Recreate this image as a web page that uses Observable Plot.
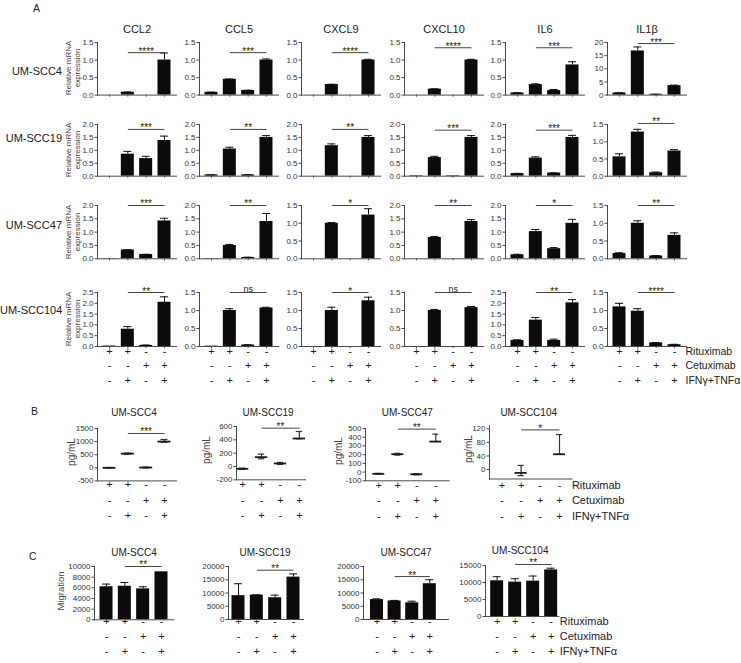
<!DOCTYPE html>
<html><head><meta charset="utf-8">
<script src="https://cdn.jsdelivr.net/npm/d3@7"></script>
<script src="https://cdn.jsdelivr.net/npm/@observablehq/plot@0.6"></script>
<style>
body{margin:0;background:#fff;}
#fig{position:relative;width:741px;height:663px;font-family:"Liberation Sans",Arial,Helvetica,sans-serif;color:#222;overflow:hidden;background:#fff;}
#fig svg{position:absolute;overflow:visible;background:transparent;}
.lbl{position:absolute;white-space:nowrap;line-height:14px;}
.rot{position:absolute;white-space:pre;text-align:center;transform:translate(-50%,-50%) rotate(-90deg);color:#444;}
</style></head><body><div id="fig"></div>
<script>
// ---------- shared categories ----------
const conditions = ["c1", "c2", "c3", "c4"];
const rituximab = ["+", "+", "-", "-"];
const cetuximab = ["-", "-", "+", "+"];
const ifnTnf = ["-", "+", "-", "+"];
const treatmentNames = ["Rituximab", "Cetuximab", "IFNγ+TNFα"];
const genes = ["CCL2", "CCL5", "CXCL9", "CXCL10", "IL6", "IL1β"];
const cellLines = ["UM-SCC4", "UM-SCC19", "UM-SCC47", "UM-SCC104"];

// ---------- tick labels ----------
const ticks15 = [0, 0.5, 1.0, 1.5];
const ticks20 = [0, 0.5, 1.0, 1.5, 2.0];
const ticks25 = [0, 0.5, 1.0, 1.5, 2.0, 2.5];
const ticks0to20 = [0, 5, 10, 15, 20];

// ---------- Panel A: relative mRNA expression (mean, SEM), per gene ----------
const mrnaSCC4 = [[0, 0.08, 0, 1.0], [0.08, 0.45, 0.13, 1.0], [0, 0.3, 0, 1.0], [0, 0.17, 0, 1.0], [0.06, 0.3, 0.13, 0.86], [0.8, 16.8, 0.3, 3.6]];
const semSCC4 = [[0, 0.01, 0, 0.2], [0.005, 0.01, 0.01, 0.03], [0, 0.01, 0, 0.02], [0, 0.01, 0, 0.02], [0.01, 0.02, 0.03, 0.09], [0.1, 1.5, 0.05, 0.2]];
const sigSCC4 = ["****", "***", "****", "****", "***", "***"];
const sigYSCC4 = [1.21, 1.21, 1.21, 1.35, 1.35, 19.6];
const ticksSCC4 = [ticks15, ticks15, ticks15, ticks15, ticks15, ticks0to20];

const mrnaSCC19 = [[0, 0.85, 0.68, 1.38], [0.05, 1.05, 0.05, 1.5], [0, 1.18, 0, 1.5], [0.02, 0.72, 0.02, 1.5], [0.1, 0.7, 0.12, 1.5], [0.56, 1.28, 0.1, 0.73]];
const semSCC19 = [[0, 0.11, 0.09, 0.17], [0.005, 0.07, 0.01, 0.07], [0, 0.07, 0, 0.07], [0, 0.05, 0, 0.07], [0.01, 0.05, 0.01, 0.08], [0.09, 0.08, 0.02, 0.04]];
const sigSCC19 = ["***", "**", "**", "***", "***", "**"];
const sigYSCC19 = [1.81, 1.81, 1.81, 1.78, 1.78, 1.53];
const ticksSCC19 = [ticks20, ticks20, ticks20, ticks20, ticks20, ticks15];

const mrnaSCC47 = [[0.01, 0.33, 0.16, 1.42], [0.01, 0.5, 0.05, 1.4], [0, 1.0, 0, 1.23], [0, 0.8, 0, 1.4], [0.15, 1.02, 0.38, 1.33], [0.15, 1.0, 0.08, 0.66]];
const semSCC47 = [[0, 0.01, 0.01, 0.1], [0, 0.04, 0.01, 0.3], [0, 0.02, 0, 0.18], [0, 0.04, 0, 0.07], [0.02, 0.08, 0.04, 0.15], [0.02, 0.07, 0.01, 0.07]];
const sigSCC47 = ["***", "**", "*", "**", "*", "**"];
const sigYSCC47 = [2.0, 2.0, 1.5, 2.0, 2.0, 1.5];
const ticksSCC47 = [ticks20, ticks20, ticks15, ticks20, ticks20, ticks15];

const mrnaSCC104 = [[0.02, 0.8, 0.05, 2.05], [0.01, 1.0, 0.04, 1.07], [0, 1.0, 0, 1.27], [0, 1.0, 0, 1.08], [0.28, 1.22, 0.28, 2.02], [1.1, 0.98, 0.1, 0.05]];
const semSCC104 = [[0, 0.12, 0.02, 0.25], [0, 0.05, 0.01, 0.02], [0, 0.09, 0, 0.1], [0, 0.03, 0, 0.03], [0.03, 0.12, 0.06, 0.15], [0.1, 0.07, 0.01, 0.01]];
const sigSCC104 = ["**", "ns", "*", "ns", "**", "****"];
const sigYSCC104 = [2.5, 1.5, 1.5, 1.5, 2.5, 1.5];
const ticksSCC104 = [ticks25, ticks15, ticks15, ticks15, ticks25, ticks15];

// ---------- Panel B: secreted protein pg/mL (mean, whisker low, whisker high) ----------
const pgMean = [[0, 540, 10, 1000], [-35, 140, 45, 420], [-20, 205, -25, 350], [null, -10, null, 45]];
const pgLow = [[-10, 520, -5, 980], [-45, 115, 30, 415], [-25, 195, -32, 350], [null, -18, null, 45]];
const pgHigh = [[10, 560, 25, 1080], [-25, 185, 60, 525], [-15, 215, -18, 435], [null, 12, null, 103]];
const pgSig = ["***", "**", "**", "*"];
const pgSigY = [1310, 575, 493, 117];
const pgDomain = [[-500, 1500], [-200, 600], [-100, 500], [-28, 130]];
const pgTicks = [[-500, 0, 500, 1000, 1500], [-200, 0, 200, 400, 600], [-100, 0, 100, 200, 300, 400, 500], [0, 40, 80, 120]];

// ---------- Panel C: migration (mean, SEM) ----------
const migMean = [[6200, 6300, 5800, 9000], [9000, 9200, 8200, 16000], [7500, 7000, 6300, 13500], [10500, 10100, 10400, 13700]];
const migErr = [[500, 700, 400, 0], [4500, 100, 1000, 1200], [300, 200, 600, 1500], [1200, 1000, 1500, 500]];
const migSig = ["**", "**", "**", "**"];
const migSigY = [10000, 18600, 16200, 15300];
const migTicks = [[0, 2000, 4000, 6000, 8000, 10000], [0, 5000, 10000, 15000, 20000], [0, 5000, 10000, 15000, 20000], [0, 5000, 10000, 15000]];

// ---------- layout ----------
const FONT = '"Liberation Sans", Arial, Helvetica, sans-serif';
const AXC = "#4a4a4a";
const BAR = "#0c0a0a";
const fig = document.getElementById("fig");

const A = {colX: [97, 199, 301, 404, 505, 607], rowY: [41.7, 124.3, 205, 291.7], rowH: [52.6, 51.7, 53.3, 54],
  w: 79, pi: 0.29, po: 0.30, labelY: [71, 138.3, 225, 310], signY: [354, 368, 383], ylabX: 72.5};
const B = [
  {x: 96.7, y: 428.3, w: 79, h: 52.4, pi: 0.29, po: 0.30, align: 0.5, ylabX: 72, titleDx: -3},
  {x: 235.7, y: 426, w: 69, h: 53.3, pi: 0.35, po: 0.0, align: 0.5, ylabX: 207, titleDx: -3},
  {x: 365, y: 427.7, w: 83.6, h: 52.3, pi: 0.37, po: 0.385, align: 0.5, ylabX: 338.5, titleDx: 0},
  {x: 489.3, y: 424.8, w: 82.4, h: 53.5, pi: 0.37, po: 0.33, align: 0.5, ylabX: 468.5, titleDx: -2}
];
const Bsign = [488, 503.5, 519];
const C = [
  {x: 94.3, y: 565.7, w: 79, h: 53.3, pi: 0.29, po: 0.30, align: 0.5, titleDx: 0},
  {x: 228.3, y: 566, w: 75, h: 53, pi: 0.29, po: 0.19, align: 0.5, titleDx: -1},
  {x: 363.3, y: 566, w: 85, h: 53, pi: 0.26, po: 0.545, align: 0.365, titleDx: 0},
  {x: 485, y: 565, w: 73.3, h: 51, pi: 0.28, po: 0.175, align: 0.82, titleDx: -2}
];
const Csign = [624.5, 639.5, 654.5];

function addLabel(text, left, top, size, extra = "") {
  const d = document.createElement("div");
  d.className = "lbl";
  d.textContent = text;
  d.style.cssText += `left:${left}px;top:${top}px;font-size:${size}px;${extra}`;
  fig.appendChild(d);
}

function addRotated(text, cx, cy, size, lh) {
  const d = document.createElement("div");
  d.className = "rot";
  d.textContent = text;
  d.style.cssText += `left:${cx}px;top:${cy}px;font-size:${size}px;line-height:${lh}px;`;
  fig.appendChild(d);
}

function makePlot(L, marks) {
  const mL = 45, mR = 8, mT = 35, mB = 8;
  const svg = Plot.plot({
    width: mL + L.w + mR, height: mT + L.h + mB,
    marginLeft: mL, marginRight: mR, marginTop: mT, marginBottom: mB,
    x: {type: "band", domain: conditions, paddingInner: L.pi, paddingOuter: L.po, align: L.align ?? 0.5, round: false, axis: null},
    y: {domain: L.domain, axis: null},
    style: {fontFamily: FONT, fontSize: "8px", color: "#222", background: "transparent", overflow: "visible"},
    marks
  });
  svg.style.position = "absolute";
  svg.style.left = (L.x - mL) + "px";
  svg.style.top = (L.y - mT) + "px";
  fig.appendChild(svg);
}

function barMarks(mean, err) {
  const rows = conditions.map((c, i) => ({c, v: mean[i], e: err[i]}));
  const eb = rows.filter(d => d.v > 0 && d.e > 0);
  return [
    Plot.barY(rows.filter(d => d.v > 0), {x: "c", y: "v", fill: BAR}),
    Plot.ruleX(eb, {x: "c", y1: "v", y2: d => d.v + d.e, stroke: "#111"}),
    Plot.tickY(eb, {x: "c", y: d => d.v + d.e, stroke: "#111", insetLeft: 2.5, insetRight: 2.5})
  ];
}

function whiskerMarks(mean, lo, hi) {
  const rows = conditions.map((c, i) => ({c, m: mean[i], lo: lo[i], hi: hi[i]})).filter(d => d.m != null);
  return [
    Plot.ruleX(rows, {x: "c", y1: "lo", y2: "hi", stroke: "#333", strokeWidth: 1.2}),
    Plot.tickY(rows, {x: "c", y: "hi", stroke: "#333", strokeWidth: 1.2, insetLeft: 3, insetRight: 3}),
    Plot.tickY(rows, {x: "c", y: "lo", stroke: "#333", strokeWidth: 1.2, insetLeft: 3, insetRight: 3}),
    Plot.tickY(rows, {x: "c", y: "m", stroke: "#1a1a1a", strokeWidth: 1.8})
  ];
}

function axisMarks(ticks, fmt, xTicks) {
  const m = [
    Plot.frame({anchor: "left", stroke: AXC}),
    Plot.frame({anchor: "bottom", stroke: AXC}),
    Plot.axisY(ticks, {tickSize: 2.5, tickPadding: 1.5, fontSize: 8, stroke: AXC, fill: "#333", tickFormat: fmt, label: null})
  ];
  if (xTicks) m.push(Plot.axisX({tickSize: 2, fill: "none", stroke: AXC, label: null}));
  return m;
}

function sigMarks(label, y) {
  const s = [{a: "c2", b: "c4", m: "c3", y, t: label}];
  return [
    Plot.link(s, {x1: "a", x2: "b", y1: "y", y2: "y", stroke: "#444"}),
    Plot.text(s, {x: "m", y: "y", text: "t", lineAnchor: "bottom", dy: label === "ns" ? -0.5 : 2, fontSize: label === "ns" ? 9 : 10, fill: "#222"})
  ];
}

function titleMark(t, dy, size, dx = 0) {
  return Plot.text([t], {frameAnchor: "top", text: d => d, lineAnchor: "bottom", dy, dx, fontSize: size, fill: "#222"});
}

function signMarks(dys, withLabels, dxLabel, labelSize) {
  const m = [];
  [rituximab, cetuximab, ifnTnf].forEach((arr, j) => {
    m.push(Plot.text(conditions.map((c, i) => ({c, s: arr[i]})), {x: "c", text: "s", frameAnchor: "bottom", dy: dys[j], fontSize: 11, fill: "#222"}));
    if (withLabels) m.push(Plot.text([treatmentNames[j]], {frameAnchor: "bottom-right", text: d => d, textAnchor: "start", dx: dxLabel, dy: dys[j], fontSize: labelSize, fill: "#222"}));
  });
  return m;
}

const fmt1 = d3.format(".1f");
const fmtInt = d => String(d);

// ---------- Panel A ----------
addLabel("A", 33, 1, 10.5);
const aRows = [
  {mean: mrnaSCC4, err: semSCC4, sig: sigSCC4, sigY: sigYSCC4, ticks: ticksSCC4},
  {mean: mrnaSCC19, err: semSCC19, sig: sigSCC19, sigY: sigYSCC19, ticks: ticksSCC19},
  {mean: mrnaSCC47, err: semSCC47, sig: sigSCC47, sigY: sigYSCC47, ticks: ticksSCC47},
  {mean: mrnaSCC104, err: semSCC104, sig: sigSCC104, sigY: sigYSCC104, ticks: ticksSCC104}
];
aRows.forEach((row, r) => {
  addLabel(cellLines[r], 0, A.labelY[r] - 7, 11, "width:62px;text-align:right;");
  addRotated("Relative mRNA\nexpression", A.ylabX, A.rowY[r] + A.rowH[r] / 2, 8, 9);
  genes.forEach((g, j) => {
    const ticks = row.ticks[j];
    const top = ticks[ticks.length - 1];
    const marks = [
      ...barMarks(row.mean[j], row.err[j]),
      ...axisMarks(ticks, top > 5 ? fmtInt : fmt1, true),
      ...sigMarks(row.sig[j], row.sigY[j])
    ];
    if (r === 0) marks.push(titleMark(g, -9, 11));
    if (r === 3) {
      const bottom = A.rowY[r] + A.rowH[r];
      marks.push(...signMarks(A.signY.map(s => s - bottom), j === 5, -1, 10.5));
    }
    makePlot({x: A.colX[j], y: A.rowY[r], w: A.w, h: A.rowH[r], pi: A.pi, po: A.po, domain: [0, top]}, marks);
  });
});

// ---------- Panel B ----------
addLabel("B", 31, 404, 10.5);
B.forEach((L, k) => {
  addRotated("pg/mL", L.ylabX, L.y + L.h / 2 - 3, 10, 12);
  const marks = [
    ...axisMarks(pgTicks[k], fmtInt, false),
    ...whiskerMarks(pgMean[k], pgLow[k], pgHigh[k]),
    ...sigMarks(pgSig[k], pgSigY[k]),
    titleMark(cellLines[k], 415.7 - L.y, 10, L.titleDx),
    ...signMarks(Bsign.map(s => s - (L.y + L.h)), k === 3, 0, 11)
  ];
  makePlot({...L, domain: pgDomain[k]}, marks);
});

// ---------- Panel C ----------
addLabel("C", 29, 549, 10.5);
addRotated("Migration", 60, 591, 9.5, 11);
C.forEach((L, k) => {
  const ticks = migTicks[k];
  const marks = [
    ...barMarks(migMean[k], migErr[k]),
    ...axisMarks(ticks, fmtInt, false),
    ...sigMarks(migSig[k], migSigY[k]),
    titleMark(cellLines[k], (k === 3 ? 553.3 : 555.7) - L.y, 10, L.titleDx),
    ...signMarks(Csign.map(s => s - (L.y + L.h)), k === 3, 1, 11)
  ];
  makePlot({...L, domain: [0, ticks[ticks.length - 1]]}, marks);
});
</script></body></html>
